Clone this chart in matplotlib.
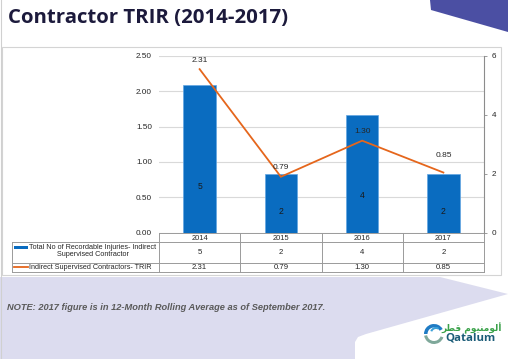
import matplotlib
matplotlib.use("Agg")
import matplotlib.pyplot as plt
from matplotlib.patches import Rectangle, Polygon, Wedge
from matplotlib.transforms import blended_transform_factory
from matplotlib.ticker import FormatStrFormatter

# ---------------- data ----------------
years = ["2014", "2015", "2016", "2017"]
injuries = [5, 2, 4, 2]
trir = [2.31, 0.79, 1.30, 0.85]
trir_labels = ["2.31", "0.79", "1.30", "0.85"]
left_ticks = [0.0, 0.5, 1.0, 1.5, 2.0, 2.5]
right_ticks = [0, 2, 4, 6]
bar_series_name = ["Total No of Recordable Injuries- Indirect", "Supervised Contractor"]
line_series_name = "Indirect Supervised Contractors- TRIR"
title = "Contractor TRIR (2014-2017)"
note = "NOTE: 2017 figure is in 12-Month Rolling Average as of September 2017."
logo_latin = "Qatalum"
logo_arabic = "\uFEAE\uFEC4\uFED7 \uFEE1\uFEEE\uFEF4\uFEE8\uFEE3\uFEEE\uFEDF\uFE83"

# ---------------- style ----------------
BAR_C = "#0a6cc0"
LINE_C = "#e5661c"
GRID_C = "#d9d9d9"
TABLE_C = "#9a9a9a"
TXT = "#262626"
SMALL = "Liberation Sans"
label_offsets_px = [9, 9, 9, 17]

W, H = 508, 359
fig = plt.figure(figsize=(W / 100, H / 100), dpi=100)

bg = fig.add_axes([0, 0, 1, 1], zorder=0)
bg.set_xlim(0, W)
bg.set_ylim(H, 0)
bg.axis("off")


def px_box(l, t, r, b):
    return [l / W, 1 - b / H, (r - l) / W, (b - t) / H]


# background decorations
bg.add_patch(Polygon([(430, 0), (508, 0), (508, 32), (431, 10)], closed=True,
                     fc="#4b4fa3", ec="none"))
bg.add_patch(Rectangle((2, 47), 499, 228, fc="white", ec="#d4d4d4", lw=0.8))
bg.add_patch(Polygon([(0, 277), (440, 277), (508, 294), (366, 334), (358, 337),
                      (355, 342), (355, 359), (0, 359)], closed=True,
                     fc="#dcdcef", ec="none"))
bg.plot([1, 1], [0, 359], color="#d0d0d0", lw=0.8)

bg.text(8, 18, title, fontsize=14.7, fontweight="bold", family="Open Sans",
        color="#1c1a3c", va="center", ha="left")
bg.text(7, 308, note, fontsize=6.7, fontweight="bold", style="italic",
        family=SMALL, color="#5a5a5a", va="center", ha="left")

# logo
bg.add_patch(Wedge((434, 334), 10, 180, 330, width=3.5, fc="#1f7bc4", ec="none"))
bg.add_patch(Wedge((434, 334), 10, 20, 170, width=3.0, fc="#7fa89a", ec="none"))
bg.add_patch(Wedge((436, 333), 6, 200, 300, width=2.0, fc="#3aa0d8", ec="none"))
bg.text(471, 338, logo_latin, fontsize=8.2, fontweight="bold", family="Open Sans",
        color="#1b5c78", va="center", ha="center")
bg.text(472, 328, logo_arabic, fontsize=6.5, fontweight="bold", family="DejaVu Sans",
        color="#3aa24a", va="center", ha="center")

# ---------------- chart ----------------
ax = fig.add_axes(px_box(159, 55.7, 484, 232.7), zorder=1)
ax.patch.set_visible(False)
x = list(range(len(years)))
ax.set_xlim(-0.5, len(years) - 0.5)
ax.set_ylim(0, 2.5)
ax.set_yticks(left_ticks)
ax.yaxis.set_major_formatter(FormatStrFormatter("%.2f"))
ax.set_xticks([])
ax.grid(axis="y", color=GRID_C, lw=0.8)
ax.set_axisbelow(True)
for s in ax.spines.values():
    s.set_visible(False)
ax.tick_params(axis="y", length=0, pad=5, labelsize=5.9, labelcolor=TXT)
for t in ax.get_yticklabels():
    t.set_family(SMALL)

axb = ax.twinx()
axb.patch.set_visible(False)
axb.bar(x, injuries, width=0.4, color=BAR_C, edgecolor="#62a6e2", lw=0.5)
axb.set_ylim(0, 6)
axb.set_yticks(right_ticks)
for k, s in axb.spines.items():
    s.set_visible(k == "right")
axb.spines["right"].set_color("#8c8c8c")
axb.spines["right"].set_linewidth(0.8)
axb.tick_params(axis="y", direction="out", length=2.5, width=0.6, color="#8c8c8c",
                pad=3, labelsize=5.9, labelcolor=TXT)
for t in axb.get_yticklabels():
    t.set_family(SMALL)
for xi, v in zip(x, injuries):
    axb.text(xi, v * 0.28 + 0.15, str(v), ha="center", va="center", fontsize=6.2,
             family=SMALL, color="#1a1a1a")

axl = ax.twinx()
axl.patch.set_visible(False)
axl.set_ylim(0, 2.5)
axl.set_xlim(-0.5, len(years) - 0.5)
axl.plot(x, trir, color=LINE_C, lw=1.3, solid_joinstyle="miter")
axl.set_yticks([])
for s in axl.spines.values():
    s.set_visible(False)
for xi, v, lab, off in zip(x, trir, trir_labels, label_offsets_px):
    axl.annotate(lab, (xi, v), xytext=(0, off), textcoords="offset pixels",
                 ha="center", va="center", fontsize=6.0, family=SMALL, color=TXT)

# ---------------- data table ----------------
tr = blended_transform_factory(ax.transData, bg.transData)
y_top, y_r1, y_r2, y_bot = 232.7, 242.3, 262.7, 271.7
n = len(years)
lw_t = 0.7
for yy in (y_top, y_r1, y_r2, y_bot):
    bg.plot([-0.5, n - 0.5], [yy, yy], color=TABLE_C, lw=lw_t, transform=tr)
for i in range(n + 1):
    bg.plot([i - 0.5, i - 0.5], [y_top, y_bot], color=TABLE_C, lw=lw_t, transform=tr)
for yy in (y_r1, y_r2, y_bot):
    bg.plot([12, 159], [yy, yy], color=TABLE_C, lw=lw_t)
bg.plot([12, 12], [y_r1, y_bot], color=TABLE_C, lw=lw_t)

for xi, yr, v, lab in zip(x, years, injuries, trir_labels):
    bg.text(xi, (y_top + y_r1) / 2 + 0.5, yr, transform=tr, ha="center", va="center",
            fontsize=5.4, family=SMALL, color=TXT)
    bg.text(xi, (y_r1 + y_r2) / 2, str(v), transform=tr, ha="center", va="center",
            fontsize=5.6, family=SMALL, color=TXT)
    bg.text(xi, (y_r2 + y_bot) / 2, lab, transform=tr, ha="center", va="center",
            fontsize=5.6, family=SMALL, color=TXT)

# legend keys
bg.add_patch(Rectangle((13.5, 246), 14, 2.6, fc=BAR_C, ec="none"))
bg.plot([13.5, 27.5], [267.3, 267.3], color=LINE_C, lw=1.3)
bg.text(93, 247.3, bar_series_name[0], ha="center", va="center", fontsize=5.2,
        family=SMALL, color=TXT)
bg.text(93, 254.5, bar_series_name[1], ha="center", va="center", fontsize=5.2,
        family=SMALL, color=TXT)
bg.text(90, 267.3, line_series_name, ha="center", va="center", fontsize=5.2,
        family=SMALL, color=TXT)

fig.savefig("out.png", dpi=100)
